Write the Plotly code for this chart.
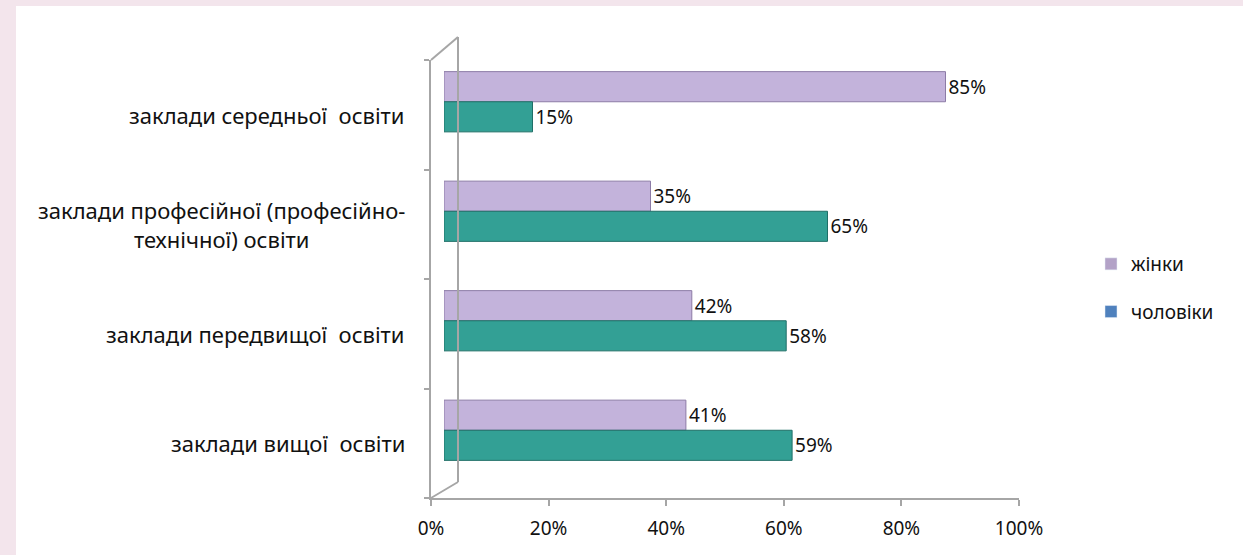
import plotly.graph_objects as go

W, H = 1243, 555

CATEGORIES = [
    "заклади середньої\u00a0 освіти",
    "заклади професійної (професійно-<br>технічної) освіти",
    "заклади передвищої\u00a0 освіти",
    "заклади вищої\u00a0 освіти",
]
WOMEN = [85, 35, 42, 41]
MEN = [15, 65, 58, 59]
X_TICKS = [0, 20, 40, 60, 80, 100]

COLOR_WOMEN = "#c3b3db"
COLOR_WOMEN_EDGE = "#8c7ba6"
COLOR_MEN = "#33a095"
COLOR_MEN_EDGE = "#1f6f67"
LEGEND_WOMEN = "#b3a2c7"
LEGEND_MEN = "#4f81bd"
AXIS_COLOR = "#a6a6a6"
PINK = "#f3e5ec"
TEXT = "#111111"
FONT = "Noto Sans, sans-serif"


def px_x(p):
    return p / W


def px_y(p):
    return 1 - p / H


fig = go.Figure()

fig.add_trace(go.Bar(
    name="жінки", y=CATEGORIES, x=WOMEN, orientation="h",
    marker=dict(color=COLOR_WOMEN, line=dict(color=COLOR_WOMEN_EDGE, width=1)),
    texttemplate="%{x}%", textposition="outside", cliponaxis=False,
    textfont=dict(size=19, color=TEXT), showlegend=False,
))
fig.add_trace(go.Bar(
    name="чоловіки", y=CATEGORIES, x=MEN, orientation="h",
    marker=dict(color=COLOR_MEN, line=dict(color=COLOR_MEN_EDGE, width=1)),
    texttemplate="%{x}%", textposition="outside", cliponaxis=False,
    textfont=dict(size=19, color=TEXT), showlegend=False,
))

# legend swatches (the original legend colours differ from the bar fills)
for name, color, grp in [("жінки", LEGEND_WOMEN, "a"), ("чоловіки", LEGEND_MEN, "b")]:
    fig.add_trace(go.Bar(name=name, x=[None], y=[None], marker_color=color,
                         xaxis="x2", yaxis="y2", legendgroup=grp, showlegend=True))

# category labels centred on the front axis bands
for i, cat in enumerate(CATEGORIES):
    fig.add_annotation(
        text=cat, xref="paper", x=px_x(407), xanchor="right",
        yref="y2", y=i + 0.5, yanchor="middle", align="center",
        showarrow=False, font=dict(size=22, color=TEXT),
    )

# 3d wall outline
wall = dict(type="line", xref="paper", yref="paper", line=dict(color=AXIS_COLOR, width=2))
fig.add_shape(x0=px_x(458), x1=px_x(458), y0=px_y(37), y1=px_y(482), **wall)
fig.add_shape(x0=px_x(431), x1=px_x(458), y0=px_y(60), y1=px_y(37), **wall)
fig.add_shape(x0=px_x(431), x1=px_x(458), y0=px_y(498), y1=px_y(482), **wall)

# pink frame
fig.add_shape(type="rect", xref="paper", yref="paper", x0=0, x1=1, y0=px_y(6), y1=1,
              fillcolor=PINK, line_width=0, layer="below")
fig.add_shape(type="rect", xref="paper", yref="paper", x0=0, x1=px_x(16), y0=0, y1=1,
              fillcolor=PINK, line_width=0, layer="below")

fig.update_layout(
    width=W, height=H,
    margin=dict(l=0, r=0, t=0, b=0, pad=0, autoexpand=False),
    paper_bgcolor="white", plot_bgcolor="rgba(0,0,0,0)",
    font=dict(family=FONT, size=19, color=TEXT),
    barmode="group", bargap=0.45, bargroupgap=0,
    xaxis=dict(domain=[px_x(444), px_x(1034)], range=[0, 100], visible=False),
    yaxis=dict(domain=[px_y(485), px_y(47)], autorange="reversed", visible=False),
    xaxis2=dict(domain=[px_x(431), px_x(1019)], range=[0, 100], anchor="y2",
                tickvals=X_TICKS, ticktext=[f"{v}%" for v in X_TICKS],
                showgrid=False, zeroline=False,
                showline=True, linecolor=AXIS_COLOR, linewidth=2,
                ticks="outside", ticklen=6, tickcolor=AXIS_COLOR, tickwidth=2,
                tickfont=dict(size=19, color=TEXT), ticklabelstandoff=6),
    yaxis2=dict(domain=[px_y(498), px_y(60)], range=[len(CATEGORIES), 0], anchor="x2",
                tickvals=list(range(len(CATEGORIES) + 1)), showticklabels=False,
                showgrid=False, zeroline=False, showline=True, linecolor=AXIS_COLOR,
                linewidth=2, ticks="outside", ticklen=5, tickcolor=AXIS_COLOR, tickwidth=2),
    legend=dict(x=px_x(1091), y=px_y(288), xanchor="left", yanchor="middle",
                font=dict(size=19, color=TEXT), tracegroupgap=20,
                bgcolor="rgba(0,0,0,0)"),
    showlegend=True,
)

fig.write_html(
    "out.html",
    config={"displayModeBar": False},
    post_script=(
        "document.body.style.margin='0';"
        "document.body.style.overflow='hidden';"
        "document.documentElement.style.overflow='hidden';"
    ),
)
